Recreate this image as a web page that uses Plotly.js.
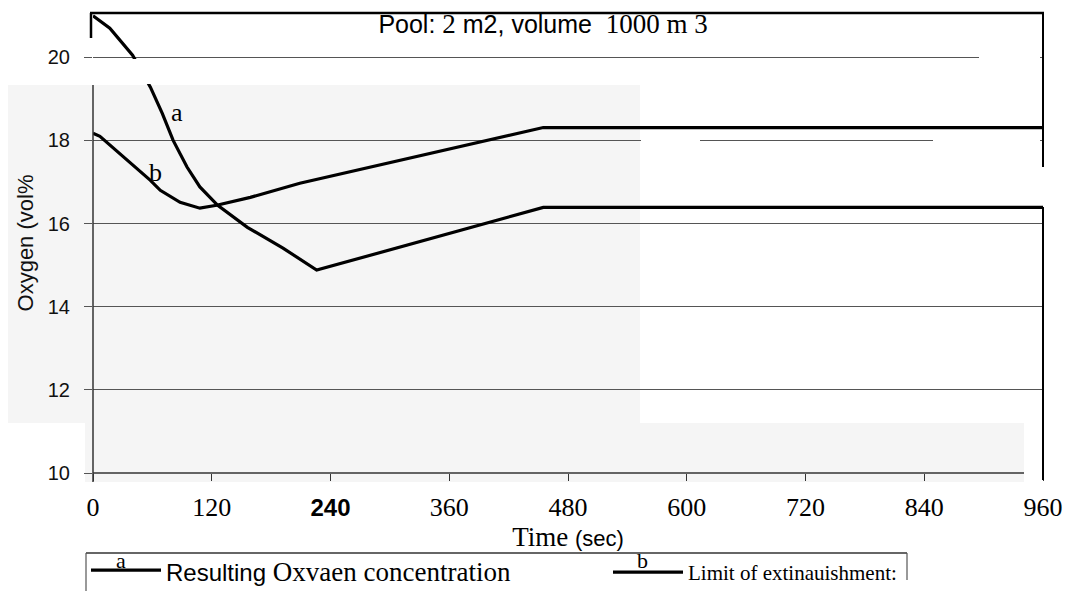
<!DOCTYPE html>
<html>
<head>
<meta charset="utf-8">
<script src="https://cdn.plot.ly/plotly-3.0.1.min.js"></script>
<style>html,body{margin:0;padding:0;background:#fff;}#chart{width:1069px;height:591px;}</style>
</head>
<body>
<div id="chart"></div>
<script>
// Time (sec) and oxygen (vol%)
var timeA = [0, 17, 40, 58, 70, 81, 95, 108, 126, 156, 192, 226, 455, 960];
var oxygenA = [21.0, 20.7, 20.05, 19.28, 18.65, 18.0, 17.36, 16.88, 16.44, 15.91, 15.41, 14.88, 16.39, 16.39];
var timeB = [0, 7, 58, 68, 88, 108, 125, 159, 209, 455, 960];
var oxygenB = [18.17, 18.1, 17.04, 16.8, 16.51, 16.37, 16.44, 16.63, 16.97, 18.31, 18.31];
var xTicks = [0, 120, 240, 360, 480, 600, 720, 840, 960];
var xTickText = ['0', '120', '<span style="font-family:Liberation Sans;font-weight:bold;font-size:24px">240</span>', '360', '480', '600', '720', '840', '960'];
var yTicks = [10, 12, 14, 16, 18, 20];
var nameA = '<span style="font-family:Liberation Sans;font-size:24px">Resulting</span> Oxvaen concentration';
var nameB = 'Limit of extinauishment:';
var titleText = '<span style="font-family:Liberation Sans">Pool: </span><span style="font-family:Liberation Serif;font-size:27px">2</span><span style="font-family:Liberation Sans"> m2, volume </span><span style="font-family:Liberation Serif;font-size:27px"> 1000 m 3</span>';

function px(x) { return (x - 93) / 950; }
function py(y) { return (473 - y) / 460; }

var traces = [
  {x: timeA, y: oxygenA, name: nameA, type: 'scatter', mode: 'lines', line: {color: '#000', width: 3.2}, legend: 'legend'},
  {x: timeB, y: oxygenB, name: nameB, type: 'scatter', mode: 'lines', line: {color: '#000', width: 3.2}, legend: 'legend2'}
];

var shapes = [
  // gray scan background
  {type: 'rect', xref: 'paper', yref: 'paper', x0: px(8), x1: px(640), y0: py(423), y1: py(85), fillcolor: '#f5f5f5', line: {width: 0}, layer: 'below'},
  {type: 'rect', xref: 'paper', yref: 'paper', x0: px(85), x1: px(1024), y0: py(482), y1: py(423), fillcolor: '#f5f5f5', line: {width: 0}, layer: 'below'},
  // frame
  {type: 'line', xref: 'paper', yref: 'paper', x0: px(90), x1: px(1044), y0: 1, y1: 1, line: {color: '#000', width: 2.5}},
  {type: 'line', xref: 'paper', yref: 'paper', x0: px(91), x1: px(91), y0: py(38), y1: 1, line: {color: '#000', width: 2.5}},
  {type: 'line', xref: 'paper', yref: 'paper', x0: 0, x1: 0, y0: py(482), y1: py(85), line: {color: '#333', width: 1.5}},
  {type: 'line', xref: 'paper', yref: 'paper', x0: 1, x1: 1, y0: py(167), y1: 1, line: {color: '#000', width: 2}},
  {type: 'line', xref: 'paper', yref: 'paper', x0: 1, x1: 1, y0: py(480), y1: py(207), line: {color: '#000', width: 2}},
  {type: 'line', xref: 'paper', yref: 'paper', x0: 0, x1: px(1024), y0: 0, y1: 0, line: {color: '#333', width: 1.5}},
  // legend box (bottom cut off by the page edge)
  {type: 'line', xref: 'paper', yref: 'paper', x0: px(86), x1: px(907), y0: py(553), y1: py(553), line: {color: '#333', width: 1.5}},
  {type: 'line', xref: 'paper', yref: 'paper', x0: px(86), x1: px(86), y0: py(595), y1: py(553), line: {color: '#555', width: 1.2}},
  {type: 'line', xref: 'paper', yref: 'paper', x0: px(907), x1: px(907), y0: py(580), y1: py(553), line: {color: '#555', width: 1.2}},
  // white scan gaps
  {type: 'rect', xref: 'paper', yref: 'paper', x0: px(88), x1: px(1040), y0: py(84), y1: py(59), fillcolor: '#fff', line: {width: 0}, layer: 'above'},
  {type: 'rect', xref: 'paper', yref: 'paper', x0: px(979), x1: px(1040), y0: py(60), y1: py(53), fillcolor: '#fff', line: {width: 0}, layer: 'above'},
  {type: 'rect', xref: 'paper', yref: 'paper', x0: px(641), x1: px(700), y0: py(143), y1: py(137.5), fillcolor: '#fff', line: {width: 0}, layer: 'above'},
  {type: 'rect', xref: 'paper', yref: 'paper', x0: px(933), x1: px(1040), y0: py(143), y1: py(137.5), fillcolor: '#fff', line: {width: 0}, layer: 'above'},
  {type: 'rect', xref: 'paper', yref: 'paper', x0: px(1025.5), x1: px(1040), y0: py(476), y1: py(470), fillcolor: '#fff', line: {width: 0}, layer: 'above'}
];

var annotations = [
  {xref: 'x', yref: 'y', x: 85, y: 18.68, text: 'a', showarrow: false, xanchor: 'center', yanchor: 'middle', font: {family: 'Liberation Serif', size: 26, color: '#000'}},
  {xref: 'x', yref: 'y', x: 63, y: 17.24, text: 'b', showarrow: false, xanchor: 'center', yanchor: 'middle', font: {family: 'Liberation Serif', size: 26, color: '#000'}},
  {xref: 'paper', yref: 'paper', x: px(121), y: py(560), text: 'a', showarrow: false, xanchor: 'center', yanchor: 'middle', font: {family: 'Liberation Serif', size: 22, color: '#000'}},
  {xref: 'paper', yref: 'paper', x: px(642), y: py(560), text: 'b', showarrow: false, xanchor: 'center', yanchor: 'middle', font: {family: 'Liberation Serif', size: 22, color: '#000'}}
];

var legendBase = {orientation: 'h', xanchor: 'left', yanchor: 'top', bgcolor: 'rgba(0,0,0,0)',
  borderwidth: 0, itemwidth: 70, itemclick: false, itemdoubleclick: false};

var layout = {
  width: 1069, height: 591,
  margin: {l: 93, r: 26, t: 13, b: 118, pad: 0, autoexpand: false},
  paper_bgcolor: '#fff', plot_bgcolor: 'rgba(0,0,0,0)',
  showlegend: true,
  title: {text: titleText, x: 0.508, xanchor: 'center', y: 1 - 24 / 591, yanchor: 'middle', xref: 'container', yref: 'container',
          font: {family: 'Liberation Sans', size: 25, color: '#000'}},
  xaxis: {range: [0, 960], tickvals: xTicks, ticktext: xTickText, showgrid: false, zeroline: false, showline: false,
          ticks: 'outside', ticklen: 7, tickcolor: '#333', tickwidth: 1, ticklabelstandoff: 4,
          tickfont: {family: 'Liberation Serif', size: 26, color: '#000'},
          title: {text: 'Time <span style="font-family:Liberation Sans;font-size:22px">(sec)</span>', standoff: 0,
                  font: {family: 'Liberation Serif', size: 27, color: '#000'}},
          automargin: false, fixedrange: true},
  yaxis: {range: [10, 21.065], tickvals: yTicks, showgrid: true, gridcolor: '#555', gridwidth: 1, zeroline: false, showline: false,
          ticks: 'outside', ticklen: 8, tickcolor: '#555', tickwidth: 1, ticklabelstandoff: 10,
          tickfont: {family: 'Liberation Sans', size: 20, color: '#111'},
          title: {text: 'Oxygen (vol%', standoff: 8, font: {family: 'Liberation Sans', size: 22, color: '#111'}},
          automargin: false, fixedrange: true},
  legend: Object.assign({}, legendBase, {x: px(86), y: py(546), font: {family: 'Liberation Serif', size: 27, color: '#000'}}),
  legend2: Object.assign({}, legendBase, {x: px(608), y: py(552), font: {family: 'Liberation Serif', size: 21, color: '#000'}}),
  shapes: shapes,
  annotations: annotations
};

Plotly.newPlot('chart', traces, layout, {displayModeBar: false, staticPlot: true});
</script>
</body>
</html>
